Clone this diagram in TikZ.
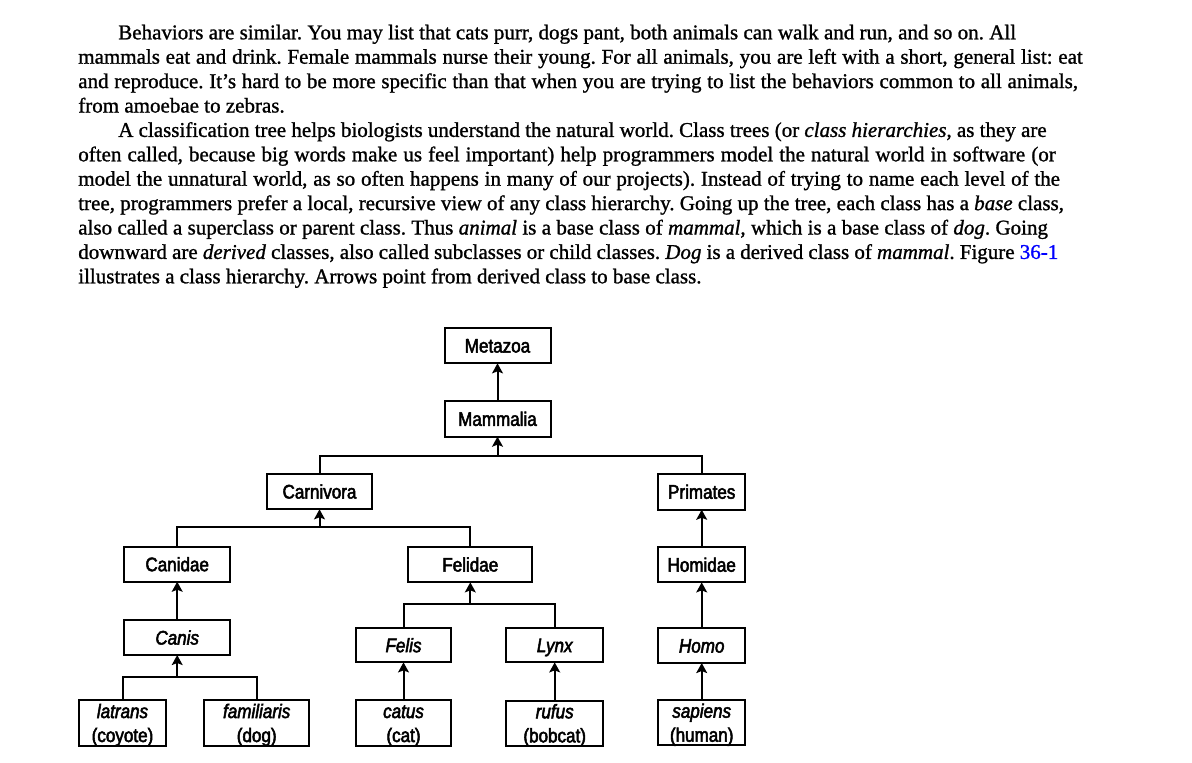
\documentclass[tikz,border=0pt]{standalone}
\usepackage{fontspec}
\usepackage{xcolor}
\usetikzlibrary{arrows.meta}
\newfontfamily\bodyfont[FakeBold=1.1]{Liberation Serif}
\newfontfamily\diagfont[FakeStretch=0.87,FakeBold=2.6]{Liberation Sans}
\definecolor{linkblue}{RGB}{0,0,255}
\frenchspacing
\begin{document}
\begin{tikzpicture}[x=0.5pt,y=-0.5pt,
  bodyline/.style={anchor=base west, inner sep=0pt, outer sep=0pt, font=\bodyfont\fontsize{10.5}{12.6}\selectfont\frenchspacing},
  box/.style={draw, line width=1pt, inner sep=0pt, outer sep=0pt, align=center, font=\diagfont\fontsize{9.8}{12}\selectfont},
  one/.style={text height=7pt, text depth=0pt},
  two/.style={text height=20.5pt, text depth=1.5pt},
  conn/.style={line width=1pt},
  arr/.style={line width=1pt, -{Stealth[length=5pt,width=5.4pt,inset=1pt]}}
]
\useasboundingbox (0,0) rectangle (1192,762);

% body text
\node[bodyline] (l1) at (118.3,39.3) {\makebox[448.85pt][s]{Behaviors are similar. You may list that cats purr, dogs pant, both animals can walk and run, and so on. All}};
\node[bodyline] (l2) at (78.3,63.7) {\makebox[502.2pt][s]{mammals eat and drink. Female mammals nurse their young. For all animals, you are left with a short, general list: eat}};
\node[bodyline] (l3) at (78.3,88.1) {\makebox[499.85pt][s]{and reproduce. It’s hard to be more specific than that when you are trying to list the behaviors common to all animals,}};
\node[bodyline] (l4) at (78.3,112.5) {from amoebae to zebras.};
\node[bodyline] (l5) at (118.3,136.9) {\makebox[464.2pt][s]{A classification tree helps biologists understand the natural world. Class trees (or \textit{class hierarchies}, as they are}};
\node[bodyline] (l6) at (78.3,161.3) {\makebox[488.7pt][s]{often called, because big words make us feel important) help programmers model the natural world in software (or}};
\node[bodyline] (l7) at (78.3,185.7) {\makebox[490.85pt][s]{model the unnatural world, as so often happens in many of our projects). Instead of trying to name each level of the}};
\node[bodyline] (l8) at (78.3,210.1) {\makebox[492.85pt][s]{tree, programmers prefer a local, recursive view of any class hierarchy. Going up the tree, each class has a \textit{base} class,}};
\node[bodyline] (l9) at (78.3,234.5) {\makebox[484.85pt][s]{also called a superclass or parent class. Thus \textit{animal} is a base class of \textit{mammal}, which is a base class of \textit{dog}. Going}};
\node[bodyline] (l10) at (78.3,258.9) {\makebox[490pt][s]{downward are \textit{derived} classes, also called subclasses or child classes. \textit{Dog} is a derived class of \textit{mammal}. Figure \textcolor{linkblue}{36-1}}};
\node[bodyline] (l11) at (78.3,283.3) {illustrates a class hierarchy. Arrows point from derived class to base class.};

% diagram nodes
\node[box, one, minimum width=53pt, minimum height=17.8pt] (metazoa) at (497.5,345.5) {Metazoa};
\node[box, one, minimum width=53pt, minimum height=17.85pt] (mammalia) at (497.5,418.8) {Mammalia};
\node[box, one, minimum width=52.8pt, minimum height=17.8pt] (carnivora) at (319.5,491.5) {Carnivora};
\node[box, one, minimum width=43.35pt, minimum height=18pt] (primates) at (701.7,491.7) {Primates};
\node[box, one, minimum width=53pt, minimum height=17.5pt] (canidae) at (177.2,564.2) {Canidae};
\node[box, one, minimum width=62pt, minimum height=17.8pt] (felidae) at (470.3,564.5) {Felidae};
\node[box, one, minimum width=43.35pt, minimum height=17.65pt] (homidae) at (701.7,564.7) {Homidae};
\node[box, one, minimum width=53pt, minimum height=17.5pt] (canis) at (177.2,637.5) {\itshape Canis};
\node[box, one, minimum width=47.5pt, minimum height=17.15pt] (felis) at (403.5,645.2) {\itshape Felis};
\node[box, one, minimum width=48.35pt, minimum height=17.15pt] (lynx) at (554.7,645.2) {\itshape Lynx};
\node[box, one, minimum width=43.35pt, minimum height=17.5pt] (homo) at (701.7,645.5) {\itshape Homo};
\node[box, two, minimum width=43.8pt, minimum height=22.65pt] (latrans) at (122.5,723) {\itshape latrans\\(coyote)};
\node[box, two, minimum width=52.35pt, minimum height=22.65pt] (familiaris) at (256.7,723) {\itshape familiaris\\(dog)};
\node[box, two, minimum width=47.5pt, minimum height=22.65pt] (catus) at (403.5,723) {\itshape catus\\(cat)};
\node[box, two, minimum width=48.35pt, minimum height=22.35pt] (rufus) at (554.7,723.3) {\itshape rufus\\(bobcat)};
\node[box, two, minimum width=43.35pt, minimum height=22.35pt] (sapiens) at (701.7,722.7) {\itshape sapiens\\(human)};

% junctions
\coordinate (j1) at (497.5,455.7);
\coordinate (j2) at (319.5,527.3);
\coordinate (j3) at (177.2,676.7);
\coordinate (j4) at (470.3,604.3);

% connectors
\draw[arr] (mammalia.north) -- (metazoa.south);
\draw[conn] (carnivora.north) |- (j1) -| (primates.north);
\draw[arr] (j1) -- (mammalia.south);
\draw[conn] (canidae.north) |- (j2) -| (felidae.north);
\draw[arr] (j2) -- (carnivora.south);
\draw[arr] (canis.north) -- (canidae.south);
\draw[conn] (latrans.north) |- (j3) -| (familiaris.north);
\draw[arr] (j3) -- (canis.south);
\draw[conn] (felis.north) |- (j4) -| (lynx.north);
\draw[arr] (j4) -- (felidae.south);
\draw[arr] (catus.north) -- (felis.south);
\draw[arr] (rufus.north) -- (lynx.south);
\draw[arr] (homo.north) -- (homidae.south);
\draw[arr] (homidae.north) -- (primates.south);
\draw[arr] (sapiens.north) -- (homo.south);
\end{tikzpicture}
\end{document}
